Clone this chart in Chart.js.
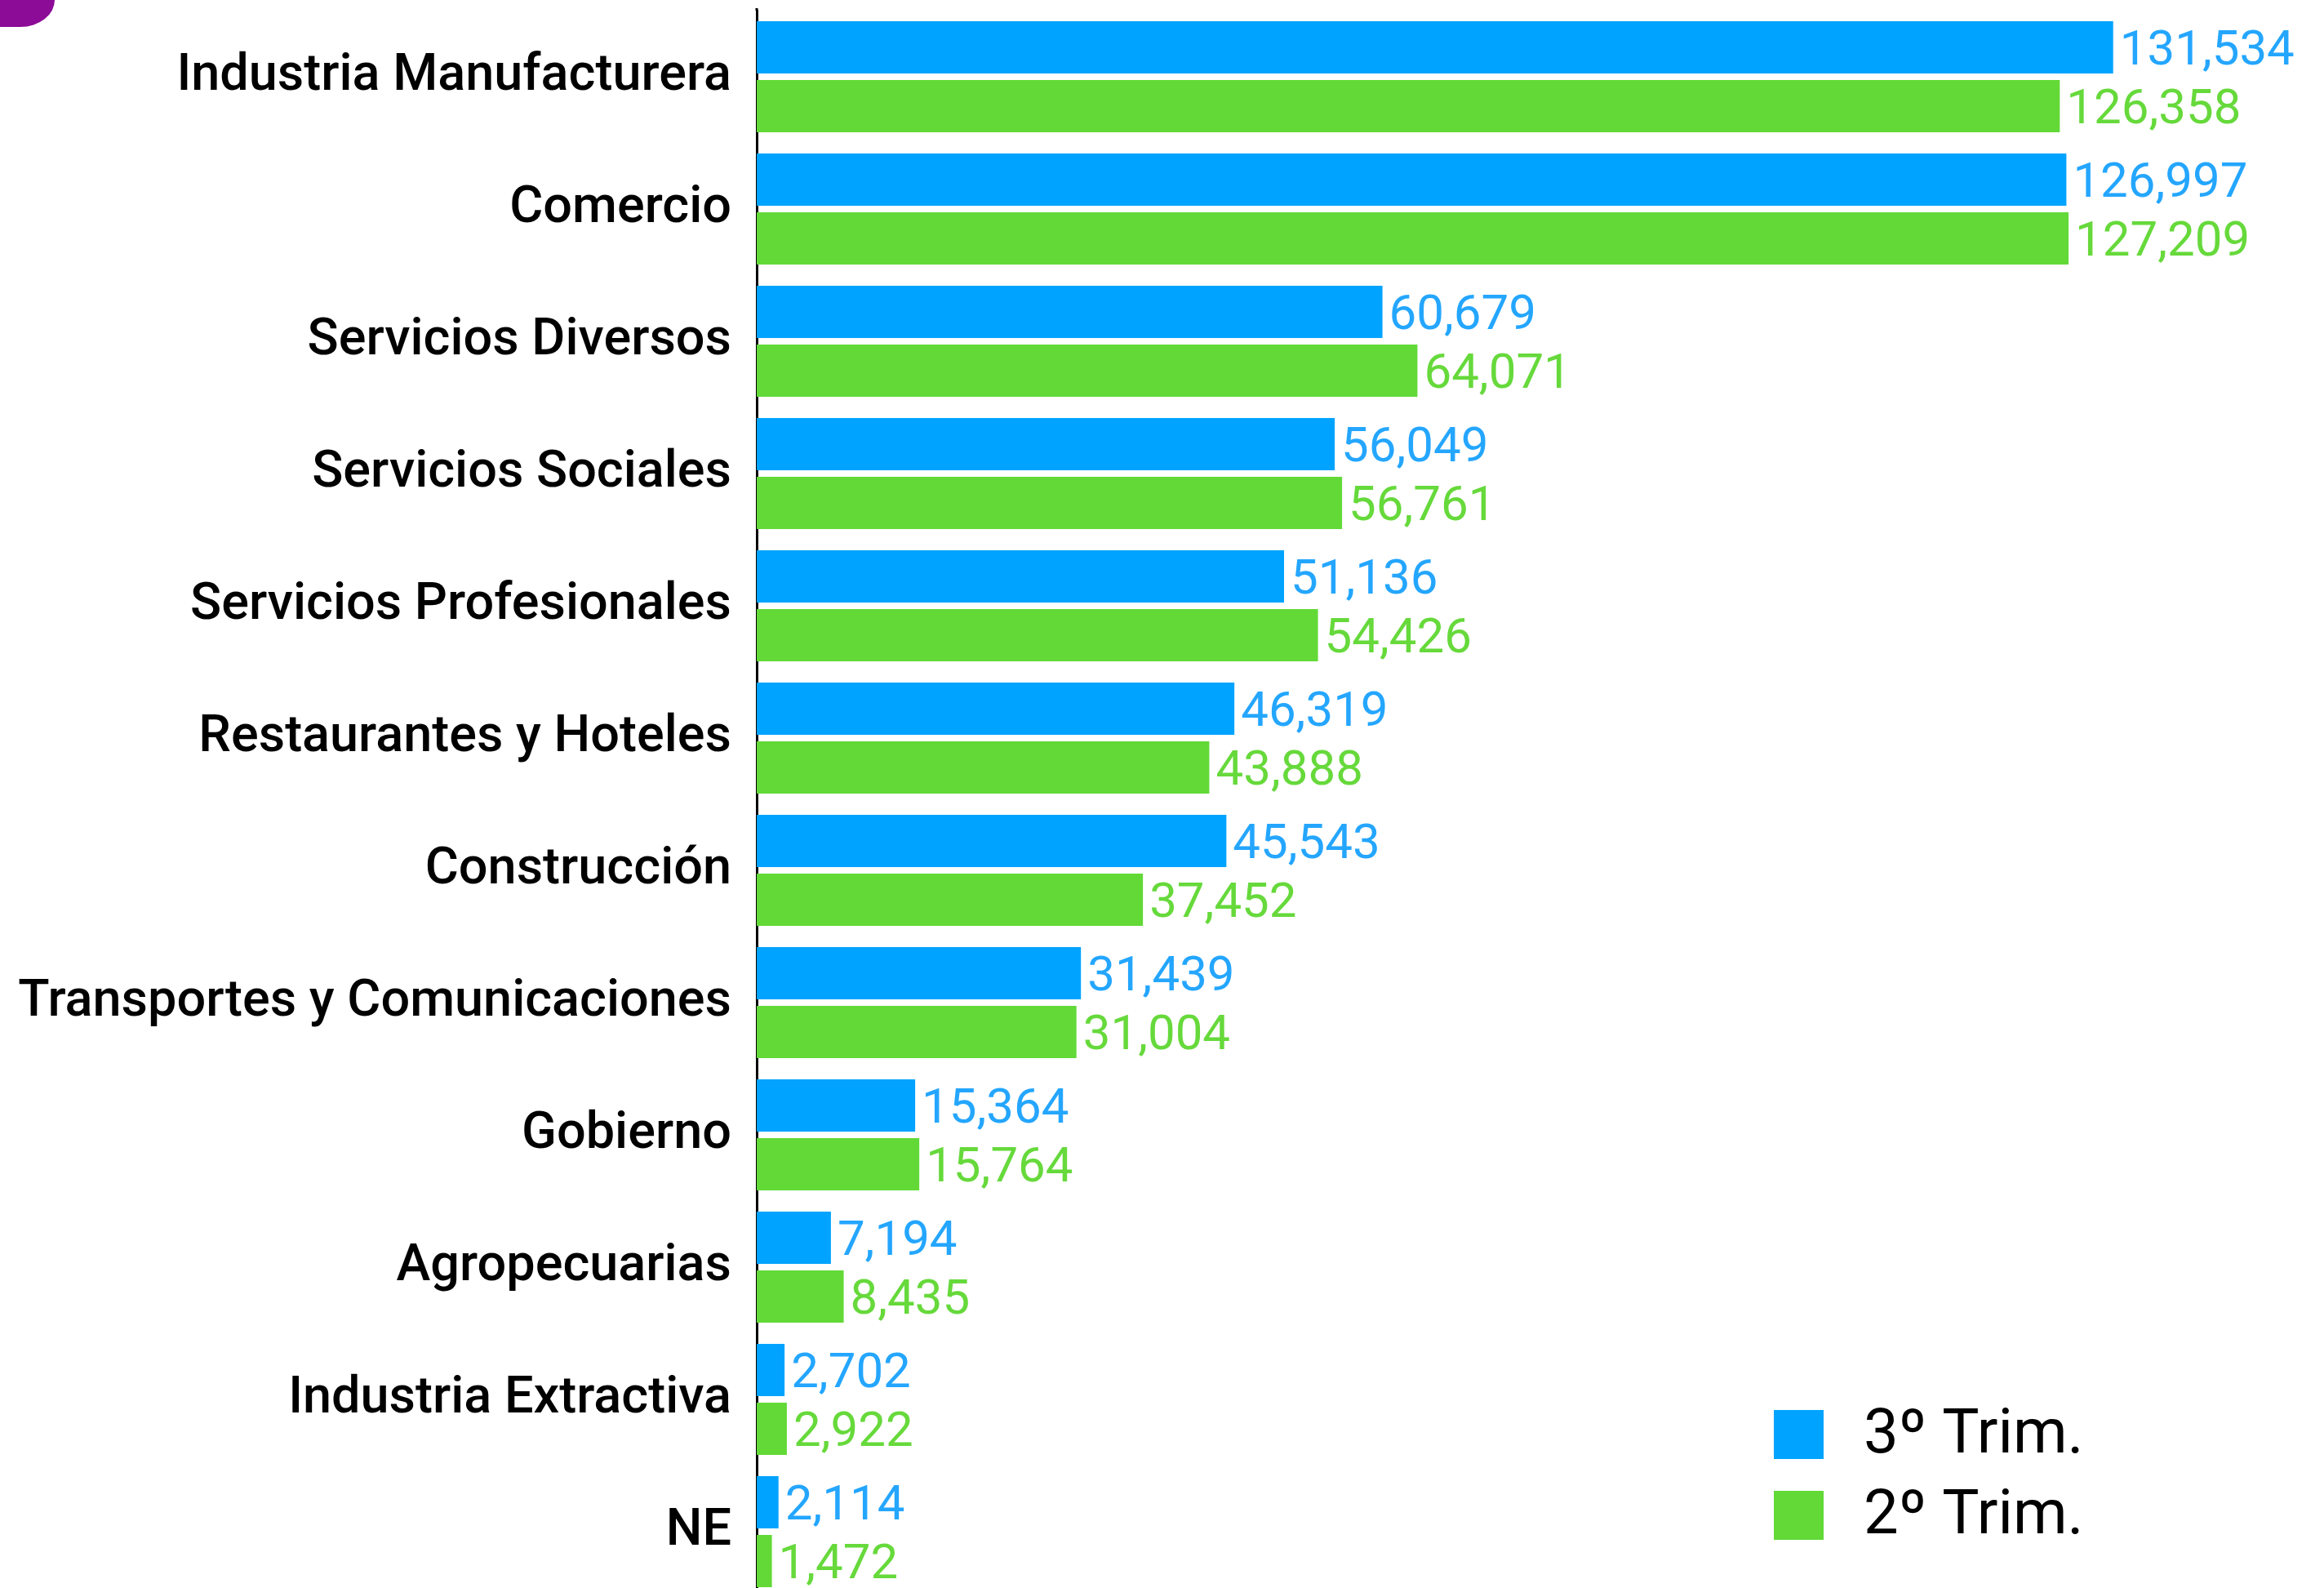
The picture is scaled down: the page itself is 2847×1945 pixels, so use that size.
<!DOCTYPE html>
<html>
<head>
<meta charset="utf-8">
<script src="https://cdn.jsdelivr.net/npm/chart.js@4.4.1/dist/chart.umd.min.js"></script>
<style>
  html, body { margin: 0; padding: 0; background: #ffffff; overflow: hidden; }
  #c { position: absolute; left: 0; top: 0; }
</style>
</head>
<body>
<canvas id="c" width="2847" height="1960"></canvas>
<script>
const categories = [
  "Industria Manufacturera", "Comercio", "Servicios Diversos", "Servicios Sociales",
  "Servicios Profesionales", "Restaurantes y Hoteles", "Construcción",
  "Transportes y Comunicaciones", "Gobierno", "Agropecuarias", "Industria Extractiva", "NE"
];
const seriesNames = ["3º Trim.", "2º Trim."];
const trim3 = [131534, 126997, 60679, 56049, 51136, 46319, 45543, 31439, 15364, 7194, 2702, 2114];
const trim2 = [126358, 127209, 64071, 56761, 54426, 43888, 37452, 31004, 15764, 8435, 2922, 1472];

const BAR_COLORS = ["#00A3FF", "#62D937"];
const LABEL_COLORS = ["#24A6FF", "#66D93B"];

const valueLabels = {
  id: "valueLabels",
  afterDatasetsDraw(chart) {
    const ctx = chart.ctx;
    ctx.save();
    ctx.font = "400 60px Roboto";
    ctx.textAlign = "left";
    ctx.textBaseline = "middle";
    chart.data.datasets.forEach((ds, i) => {
      const meta = chart.getDatasetMeta(i);
      ctx.fillStyle = LABEL_COLORS[i];
      meta.data.forEach((bar, j) => {
        ctx.fillText(ds.data[j].toLocaleString("en-US"), bar.x + 8, bar.y + 6);
      });
    });
    ctx.restore();
  }
};

const legendAndDecor = {
  id: "legendAndDecor",
  beforeDraw(chart) {
    const ctx = chart.ctx;
    ctx.save();
    ctx.fillStyle = "#8C0B97";
    ctx.beginPath();
    ctx.moveTo(0, 0);
    ctx.lineTo(67, 0);
    ctx.ellipse(25, 0, 42, 33, 0, 0, Math.PI / 2);
    ctx.lineTo(0, 33);
    ctx.closePath();
    ctx.fill();
    // axis line extends slightly above the plot area
    ctx.fillStyle = "#000000";
    ctx.fillRect(chart.chartArea.left - 1.5, 10, 3, chart.chartArea.top - 10);
    ctx.restore();
  },
  afterDraw(chart) {
    const ctx = chart.ctx;
    ctx.save();
    ctx.font = "400 76px Roboto";
    ctx.textAlign = "left";
    ctx.textBaseline = "middle";
    chart.data.datasets.forEach((ds, i) => {
      const y = 1727 + i * 99;
      ctx.fillStyle = ds.backgroundColor;
      ctx.fillRect(2173, y, 61, 60);
      ctx.fillStyle = "#000000";
      ctx.fillText(ds.label, 2283, y + 33);
    });
    ctx.restore();
  }
};

new Chart(document.getElementById("c"), {
  type: "bar",
  data: {
    labels: categories,
    datasets: [
      { label: seriesNames[0], data: trim3, backgroundColor: BAR_COLORS[0] },
      { label: seriesNames[1], data: trim2, backgroundColor: BAR_COLORS[1] }
    ]
  },
  options: {
    indexAxis: "y",
    responsive: false,
    animation: false,
    devicePixelRatio: 1,
    categoryPercentage: 0.8889,
    barPercentage: 0.8889,
    layout: { padding: { top: 13, bottom: 3, left: 0, right: 25 } },
    plugins: { legend: { display: false }, tooltip: { enabled: false } },
    scales: {
      x: { display: false, min: 0, max: 150000 },
      y: {
        grid: { display: false, drawTicks: false },
        border: { display: true, color: "#000000", width: 3 },
        afterFit(scale) {
          scale.width = 927;
          scale.paddingTop = 0;
          scale.paddingBottom = 0;
        },
        ticks: {
          color: "#000000",
          padding: 31,
          font: { family: "Roboto", size: 63, weight: "500" }
        }
      }
    }
  },
  plugins: [valueLabels, legendAndDecor]
});
</script>
</body>
</html>
